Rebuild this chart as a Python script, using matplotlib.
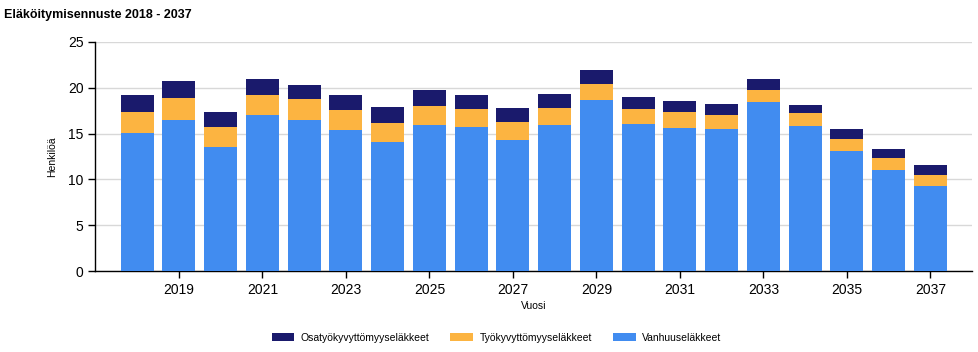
import matplotlib.pyplot as plt
import numpy as np

plt.rcParams['font.family'] = ['Liberation Sans', 'DejaVu Sans']

# Data
years = list(range(2018, 2038))
vanhuus = [15.1, 16.5, 13.5, 17.05, 16.5, 15.4, 14.1, 15.95, 15.7, 14.3,
           15.95, 18.7, 16.05, 15.6, 15.5, 18.4, 15.85, 13.1, 11.05, 9.3]
tyokyv = [2.3, 2.4, 2.2, 2.15, 2.3, 2.2, 2.1, 2.05, 2.0, 2.0,
          1.85, 1.7, 1.65, 1.7, 1.55, 1.4, 1.35, 1.3, 1.3, 1.2]
osatyo = [1.8, 1.8, 1.7, 1.7, 1.5, 1.6, 1.7, 1.7, 1.5, 1.5,
          1.5, 1.5, 1.3, 1.2, 1.2, 1.1, 0.9, 1.1, 0.95, 1.1]

c_blue = '#418CF0'
c_orange = '#FCB441'
c_navy = '#1A1A6C'

fig = plt.figure(figsize=(9.79, 3.52), dpi=100)
ax = fig.add_axes([0.0975, 0.230, 0.8955, 0.651])

x = np.array(years)
v = np.array(vanhuus)
t = np.array(tyokyv)
o = np.array(osatyo)

ax.bar(x, v, width=0.79, color=c_blue, label='Vanhuuseläkkeet', zorder=3)
ax.bar(x, t, width=0.79, bottom=v, color=c_orange, label='Työkyvyttömyyseläkkeet', zorder=3)
ax.bar(x, o, width=0.79, bottom=v + t, color=c_navy, label='Osatyökyvyttömyyseläkkeet', zorder=3)

ax.set_xlim(2017.0, 2038.0)
ax.set_ylim(0, 25)
ax.set_yticks([0, 5, 10, 15, 20, 25])
ax.set_xticks(years[1::2])
ax.yaxis.grid(True, color='#d8d8d8', linewidth=1, zorder=0)
ax.tick_params(axis='both', labelsize=10, length=5, width=1, color='black')
for s in ['top', 'right']:
    ax.spines[s].set_visible(False)
ax.spines['left'].set_linewidth(1)
ax.spines['bottom'].set_linewidth(1)

ax.set_ylabel('Henkilöä', fontsize=7.5, labelpad=8)
ax.set_xlabel('Vuosi', fontsize=7.5, labelpad=3)

fig.text(0.004, 0.975, 'Eläköitymisennuste 2018 - 2037', fontsize=9, fontweight='bold',
         ha='left', va='top')

handles, labels = ax.get_legend_handles_labels()
fig.legend(handles[::-1], labels[::-1], loc='center', bbox_to_anchor=(0.507, 0.04),
           ncol=3, frameon=False, fontsize=7.5, handlelength=2.2, handleheight=0.8,
           columnspacing=2.0, handletextpad=0.6)

fig.savefig('out.png', dpi=100)
